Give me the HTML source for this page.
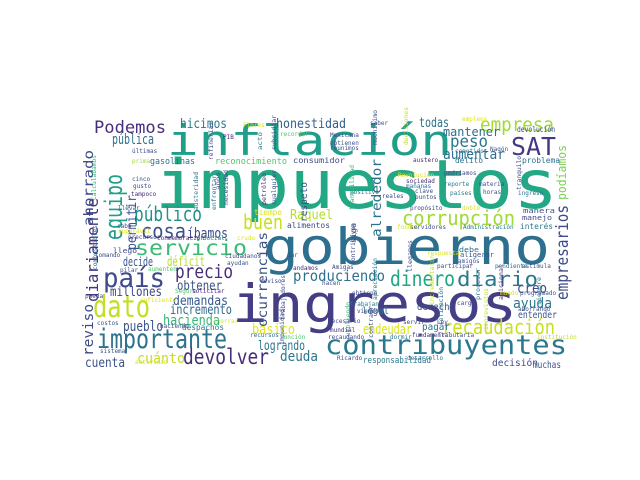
<!DOCTYPE html>
<html>
<head>
<meta charset="utf-8">
<style>
  html, body { margin: 0; padding: 0; background: #ffffff; }
  svg { display: block; }
  text { font-family: "DejaVu Sans Mono", "Liberation Mono", monospace; }
</style>
</head>
<body>
<svg id="cloud" width="640" height="480" viewBox="0 0 640 480" xmlns="http://www.w3.org/2000/svg">
  <rect x="0" y="0" width="640" height="480" fill="#ffffff"></rect>
  <g id="words"></g>
</svg>
<script>
// word, x, baseline y, font size, color, text length, vertical flag
const words = [
  ["impuestos", 155, 208, 68, "#22a884", 403, 0],
  ["inflación", 167, 155, 42, "#1f9e89", 285, 0],
  ["gobierno", 263, 264, 50, "#2c6f8e", 287, 0],
  ["ingresos", 232, 322, 53, "#433e85", 285, 0],
  ["contribuyentes", 325, 354, 27, "#2a788e", 242, 0],
  ["Podemos", 94, 133, 17, "#472d7b", 72, 0],
  ["hicimos", 180, 128, 13, "#2a788e", 47, 0],
  ["honestidad", 276, 128, 13, "#355f8d", 70, 0],
  ["todas", 419, 127, 13, "#2c728e", 30, 0],
  ["empresa", 480, 131, 19, "#a0da39", 74, 0],
  ["SAT", 511, 155, 25, "#443983", 45, 0],
  ["peso", 450, 147, 17, "#2a788e", 38, 0],
  ["mantener", 443, 136, 12, "#2f6c8e", 57, 0],
  ["devolución", 517, 132, 8, "#3e4a89", 38, 0],
  ["aumentar", 443, 159, 14, "#2d708e", 62, 0],
  ["pública", 112, 144, 14, "#2c728e", 42, 0],
  ["público", 134, 221, 20, "#21918c", 68, 0],
  ["cosa", 141, 238, 20, "#3b528b", 45, 0],
  ["íbamos", 187, 238, 14, "#3e4a89", 41, 0],
  ["buen", 243, 229, 20, "#c8e020", 40, 0],
  ["Raquel", 290, 219, 13, "#b5de2b", 43, 0],
  ["tiempo", 254, 215, 8, "#dde318", 28, 0],
  ["alimentos", 287, 228, 8, "#3e4a89", 43, 0],
  ["servicio", 135, 255, 21, "#3bbb75", 112, 0],
  ["país", 103, 287, 27, "#3e4a89", 62, 0],
  ["dato", 93, 317, 30, "#c2df23", 57, 0],
  ["decide", 123, 266, 12, "#39568c", 30, 0],
  ["déficit", 167, 266, 13, "#b5de2b", 38, 0],
  ["precio", 175, 278, 19, "#472d7b", 58, 0],
  ["millones", 110, 296, 13, "#404688", 52, 0],
  ["obtener", 177, 290, 13, "#3b528b", 45, 0],
  ["demandas", 173, 305, 13, "#38598c", 55, 0],
  ["incremento", 170, 314, 13, "#31688e", 62, 0],
  ["hacienda", 163, 325, 14, "#35b779", 57, 0],
  ["pueblo", 123, 331, 14, "#3b528b", 40, 0],
  ["básico", 252, 334, 14, "#e5e419", 43, 0],
  ["importante", 97, 348, 27, "#2c728e", 130, 0],
  ["logrando", 258, 350, 13, "#2a788e", 47, 0],
  ["devolver", 183, 364, 21, "#472d7b", 86, 0],
  ["cuánto", 137, 363, 14, "#c2df23", 48, 0],
  ["cuenta", 85, 367, 13, "#3b528b", 40, 0],
  ["deuda", 280, 361, 14, "#2a788e", 38, 0],
  ["produciendo", 293, 281, 15, "#2c728e", 92, 0],
  ["dinero", 390, 286, 21, "#21a685", 65, 0],
  ["diario", 457, 286, 20, "#2a788e", 81, 0],
  ["corrupción", 402, 225, 20, "#a0da39", 113, 0],
  ["creo", 517, 293, 14, "#3e4a89", 30, 0],
  ["ayuda", 513, 308, 14, "#2a788e", 39, 0],
  ["recaudación", 442, 334, 20, "#c8e020", 113, 0],
  ["endeudar", 363, 334, 14, "#d8e219", 49, 0],
  ["derecho", 417, 310, 10, "#3b528b", 38, 0],
  ["legal", 362, 314, 10, "#2a788e", 27, 0],
  ["pagar", 422, 330, 10, "#2c728e", 28, 0],
  ["entender", 518, 318, 10, "#3b528b", 39, 0],
  ["decisión", 492, 366, 10, "#3e4a89", 46, 0],
  ["muchas", 533, 368, 10, "#3b528b", 28, 0],
  ["responsabilidad", 363, 363, 9, "#2a788e", 68, 0],
  ["gasolinas", 150, 164, 9, "#2c728e", 45, 0],
  ["reconocimiento", 215, 164, 9, "#52c569", 72, 0],
  ["consumidor", 293, 163, 8, "#3e4a89", 52, 0],
  ["delito", 455, 163, 8, "#2c728e", 28, 0],
  ["problema", 522, 163, 8, "#2c728e", 38, 0],
  ["interés", 520, 229, 8, "#2a788e", 33, 0],
  ["manera", 523, 213, 7, "#3b528b", 32, 0],
  ["manejo", 522, 220, 7, "#3e4a89", 30, 0],
  ["debe", 459, 252, 7, "#2c728e", 20, 0],
  ["aligerar", 460, 257, 7, "#3b528b", 34, 0],
  ["despachos", 182, 330, 8, "#2a788e", 42, 0],
  ["llegó", 113, 253, 7, "#3e4a89", 24, 0],
  // vertical words: x is right-side baseline, y is bottom start
  ["diariamente", 98, 302, 16, "#46327e", 104, 1],
  ["ahorrado", 93, 226, 13, "#3e4a89", 76, 1],
  ["equipo", 122, 240, 24, "#1f9e89", 66, 1],
  ["permitir", 136, 250, 13, "#3b528b", 55, 1],
  ["reviso", 93, 356, 14, "#3e4a89", 52, 1],
  ["ocurrencias", 267, 327, 13, "#3b528b", 95, 1],
  ["alrededor", 381, 237, 13, "#2c728e", 78, 1],
  ["respeto", 307, 222, 10, "#3b528b", 40, 1],
  ["empresarios", 568, 300, 17, "#3e4a89", 95, 1],
  ["podíamos", 566, 200, 12, "#7ad151", 55, 1],
  ["siga", 356, 243, 8, "#3b528b", 20, 1],
  ["necesidad", 228, 205, 6, "#3e4a89", 35, 1],
  ["austeridad", 198, 210, 6, "#2c728e", 38, 1],
  ["enfrentar", 216, 210, 6, "#2a788e", 35, 1],
  ["petróleo", 266, 205, 6, "#472d7b", 32, 1],
  ["cualquier", 276, 205, 6, "#3b528b", 35, 1],
  ["tranquilidad", 354, 210, 6, "#35b779", 45, 1],
  ["refinerías", 213, 160, 6, "#3e4a89", 38, 1],
  ["subsidiar", 276, 150, 6, "#3e4a89", 35, 1],
  ["acto", 262, 150, 6, "#2c728e", 18, 1],
  ["tranquilo", 521, 190, 6, "#3b528b", 34, 1],
  ["contribuyen", 355, 265, 6, "#3e4a89", 42, 1],
  ["llegamos", 412, 272, 6, "#3e4a89", 32, 1],
  ["apreciación", 377, 300, 6, "#2a788e", 42, 1],
  ["incrementaron", 434, 305, 6, "#c8e020", 50, 1],
  ["adicional", 503, 300, 6, "#472d7b", 36, 1],
  ["procesar", 480, 300, 6, "#2c728e", 32, 1],
  ["trabajadores", 285, 320, 6, "#3e4a89", 45, 1],
  ["impunidad", 284, 345, 6, "#3b528b", 36, 1],
  ["contraer", 373, 338, 6, "#3b528b", 32, 1],
  ["cumpliendo", 350, 340, 6, "#35b779", 38, 1],
  ["refinación", 443, 325, 6, "#2c728e", 38, 1],
  ["imprevistos", 488, 330, 6, "#c2df23", 42, 1],
  ["siempre", 541, 305, 6, "#2a788e", 28, 1],
  ["combustibles", 97, 270, 6, "#2c728e", 45, 1],
  ["años", 220, 190, 6, "#3e4a89", 18, 1],
  ["Calculábamos", 96, 200, 6, "#35b779", 45, 1],
  ["muchísimo", 377, 145, 6, "#3b528b", 35, 1],
  ["decisiones", 408, 145, 6, "#c2df23", 38, 1]
];

// small horizontal words: word, x, baseline y, color
const smallWords = [
  ["Flores", 243, 127, "#dde318"], ["PIB", 223, 139, "#472d7b"], ["recordar", 280, 136, "#52c569"],
  ["últimas", 132, 153, "#3e4a89"], ["prima", 132, 163, "#a0da39"], ["cinco", 132, 181, "#3b528b"],
  ["gusto", 133, 188, "#3e4a89"], ["tampoco", 131, 196, "#472d7b"], ["llevar", 118, 210, "#3b528b"],
  ["cabo", 117, 228, "#3e4a89"], ["superávit", 118, 233, "#dde318"], ["precursor", 128, 239, "#3e4a89"],
  ["conmemoración", 157, 240, "#472d7b"], ["Social", 203, 240, "#2a788e"], ["crudo", 237, 240, "#dde318"],
  ["saber", 370, 125, "#3b528b"], ["empleos", 462, 121, "#dde318"], ["Mexicana", 330, 137, "#3e4a89"],
  ["obtienen", 330, 145, "#3b528b"], ["reunimos", 330, 150, "#3e4a89"], ["cometidos", 455, 153, "#2a788e"],
  ["Nagón", 490, 151, "#3b528b"], ["austero", 413, 162, "#472d7b"], ["Revolución", 398, 177, "#dde318"],
  ["podríamos", 444, 175, "#3e4a89"], ["sociedad", 406, 183, "#472d7b"], ["mañanas", 406, 188, "#2c728e"],
  ["reporte", 444, 186, "#2a788e"], ["materia", 479, 186, "#3b528b"], ["clave", 415, 193, "#3e4a89"],
  ["positivo", 350, 194, "#2a788e"], ["reales", 382, 198, "#3e4a89"], ["puntos", 415, 199, "#3e4a89"],
  ["países", 450, 195, "#2a788e"], ["horas", 483, 194, "#3b528b"], ["ingresa", 518, 195, "#2c728e"],
  ["propósito", 410, 210, "#3e4a89"], ["doble", 462, 210, "#dde318"], ["fondos", 397, 229, "#dde318"],
  ["servidores", 410, 229, "#3e4a89"], ["Administración", 463, 229, "#2a788e"],
  ["respuesta", 427, 255, "#dde318"], ["amigos", 458, 263, "#3b528b"], ["Amigas", 332, 269, "#3e4a89"],
  ["participar", 437, 268, "#3e4a89"], ["pendiente", 495, 268, "#2c728e"], ["estimula", 522, 268, "#3b528b"],
  ["hacen", 322, 285, "#3e4a89"], ["obtiene", 352, 295, "#3e4a89"], ["mundo", 500, 295, "#dde318"],
  ["programado", 520, 295, "#3b528b"], ["trabajan", 350, 306, "#2a788e"], ["carga", 457, 305, "#3e4a89"],
  ["viendo", 357, 313, "#3e4a89"], ["ahorrando", 518, 311, "#3b528b"], ["necesario", 328, 323, "#3e4a89"],
  ["servir", 403, 324, "#3e4a89"], ["Ley", 437, 324, "#3e4a89"], ["mundial", 330, 332, "#472d7b"],
  ["dormir", 390, 339, "#2c728e"], ["fundamental", 412, 337, "#472d7b"], ["Tributaria", 438, 337, "#3e4a89"],
  ["recaudando", 328, 339, "#3e4a89"], ["institución", 537, 339, "#c2df23"], ["Ricardo", 337, 360, "#3e4a89"],
  ["desarrollo", 407, 360, "#2c728e"], ["tomando", 95, 257, "#3e4a89"], ["pilar", 120, 272, "#3b528b"],
  ["aumenten", 148, 271, "#52c569"], ["ciudadanos", 225, 258, "#3e4a89"], ["ayudan", 227, 265, "#3b528b"],
  ["dar", 287, 257, "#3e4a89"], ["andamos", 293, 270, "#472d7b"], ["reviso", 260, 283, "#3e4a89"],
  ["Seguro", 175, 293, "#52c569"], ["solicitar", 192, 293, "#472d7b"], ["pueda", 85, 298, "#3e4a89"],
  ["suficiente", 140, 302, "#dde318"], ["costos", 97, 325, "#3b528b"], ["ahorrar", 213, 323, "#dde318"],
  ["haciendo", 160, 328, "#3e4a89"], ["recursos", 250, 337, "#2c728e"], ["función", 280, 339, "#52c569"],
  ["sistema", 100, 353, "#3b528b"], ["actividad", 135, 364, "#dde318"]
];

const NS = "http://www.w3.org/2000/svg";
const group = document.getElementById("words");

words.forEach(function (w) {
  const t = document.createElementNS(NS, "text");
  t.setAttribute("x", w[1]);
  t.setAttribute("y", w[2]);
  t.setAttribute("font-size", w[3]);
  t.setAttribute("fill", w[4]);
  t.setAttribute("textLength", w[5]);
  t.setAttribute("lengthAdjust", "spacingAndGlyphs");
  if (w[6]) t.setAttribute("transform", "rotate(-90 " + w[1] + " " + w[2] + ")");
  t.textContent = w[0];
  
  
  group.appendChild(t);
});

smallWords.forEach(function (w) {
  const t = document.createElementNS(NS, "text");
  t.setAttribute("x", w[1]);
  t.setAttribute("y", w[2]);
  t.setAttribute("font-size", 6);
  t.setAttribute("fill", w[3]);
  t.textContent = w[0];
  
  
  group.appendChild(t);
});
</script>
</body>
</html>
